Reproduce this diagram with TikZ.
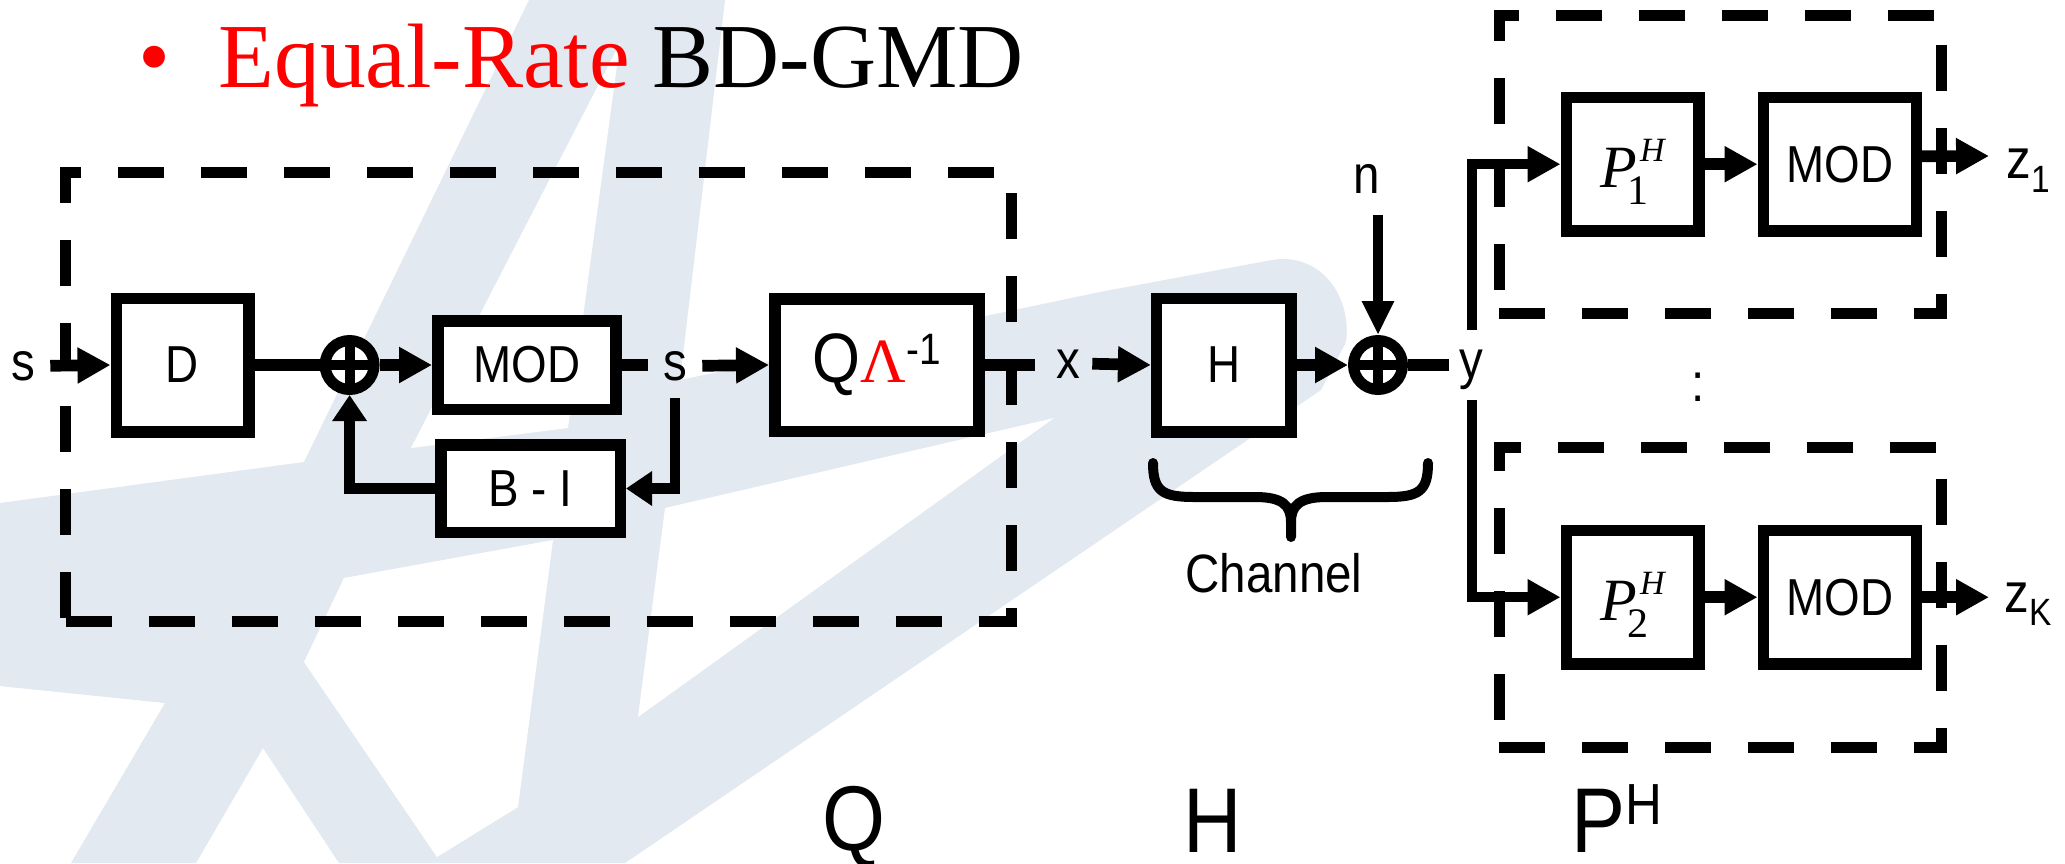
\documentclass[tikz,border=0pt]{standalone}
\usepackage{fontspec}
\setmainfont{Liberation Serif}
\newfontfamily\nar[FakeStretch=0.88]{Liberation Sans}
\usetikzlibrary{arrows.meta}
\definecolor{wm}{RGB}{226,233,240}
\newcommand{\fsz}[1]{\fontsize{#1}{#1}\selectfont}
\begin{document}
\begin{tikzpicture}[x=0.5pt,y=-0.5pt,
  blk/.style={draw, line width=5.75pt, fill=white, inner sep=0pt, font=\nar\fsz{26}},
  sumnode/.style={circle, draw, fill=white, line width=5.5pt, minimum size=24.5pt, inner sep=0pt,
    path picture={\draw[line width=5pt] (path picture bounding box.north) -- (path picture bounding box.south)
      (path picture bounding box.west) -- (path picture bounding box.east);}},
  frame/.style={draw, line width=5.5pt, dash pattern=on 23pt off 18.5pt, inner sep=0pt},
  wire/.style={line width=5.85pt},
  arr/.style={wire, -{Triangle[length=16.5pt,width=17pt]}},
  fb/.style={line width=5.25pt, -{Triangle[length=13pt,width=16.5pt]}},
  narr/.style={line width=4.75pt, -{Triangle[length=17pt,width=15pt]}},
  bus/.style={line width=5.25pt, -{Triangle[length=16.5pt,width=17pt]}},
  lbl/.style={font=\nar\fsz{27}, inner sep=0pt, anchor=base},
  bigl/.style={font=\nar\fsz{46}, inner sep=0pt},
  bracestyle/.style={line width=5pt, line cap=round},
]
\useasboundingbox (0,0) rectangle (2065,863);
\fill[white] (0,0) rectangle (2065,863);
% watermark
\fill[wm] (529,0) -- (725,0) -- (680,380) -- (1100,292) -- (1272,260)
  .. controls (1322,252) and (1352,298) .. (1346,342) -- (1321,390) -- (625,863)
  -- (339,863) -- (263,748) -- (196,863) -- (71,863) -- (165,703) -- (0,686)
  -- (0,503) -- (304,462) -- cycle;
\fill[white] (620,43) -- (411,448) -- (568,428) -- cycle;
\fill[white] (304,662) -- (344,578) -- (553,540) -- (518,807) -- (437,857) -- cycle;
\fill[white] (665,508) -- (1054,418) -- (638,717) -- cycle;

% title
\node[anchor=base west, inner sep=0pt, font=\fsz{45.75}] (title) at (138,87.3)
  {\textcolor{red}{•\hspace{24pt}Equal-Rate} BD-GMD};

% frames
\node[frame, minimum width=472.7pt, minimum height=224.5pt] (Qf) at (538.3,397.2) {};
\node[frame, minimum width=221pt, minimum height=149pt] (Pf1) at (1720,164) {};
\node[frame, minimum width=221pt, minimum height=150pt] (Pf2) at (1720,597) {};

% blocks
\node[blk, minimum width=66.25pt, minimum height=66.75pt] (D) at (182.5,365) {D};
\node[sumnode] (sum1) at (349.6,365) {};
\node[blk, minimum width=89pt, minimum height=44.25pt] (MOD) at (526.8,365) {MOD};
\node[blk, minimum width=89.75pt, minimum height=43.75pt] (BI) at (530.5,488.5) {B - I};
\node[blk, minimum width=102pt, minimum height=66.25pt] (Q) at (876.8,365)
  {{\fsz{35}Q}{\color{red}\rmfamily\fsz{31.5}Λ}\raisebox{9pt}{\fsz{22}-1}};
\node[blk, minimum width=67.25pt, minimum height=66.75pt] (H) at (1223.9,365) {H};
\node[sumnode] (sum2) at (1378,365) {};
\node[blk, minimum width=66.25pt, minimum height=66.75pt] (P1) at (1632.5,164.2)
  {\rmfamily\itshape\fsz{30}\rule{0pt}{32pt}P\rlap{\kern-4.5pt\raisebox{-8.5pt}{\fsz{21}\upshape 1}}\kern1.65pt\raisebox{13pt}{\fsz{17}H}};
\node[blk, minimum width=76.5pt, minimum height=66.75pt] (M1) at (1839.8,164.2) {MOD};
\node[blk, minimum width=66.25pt, minimum height=66.75pt] (P2) at (1632.5,597.2)
  {\rmfamily\itshape\fsz{30}\rule{0pt}{32pt}P\rlap{\kern-4.5pt\raisebox{-8.5pt}{\fsz{21}\upshape 2}}\kern1.65pt\raisebox{13pt}{\fsz{17}H}};
\node[blk, minimum width=76.5pt, minimum height=66.75pt] (M2) at (1839.8,597.2) {MOD};

% labels
\node[lbl] (s1) at (23,380) {s};
\node[lbl] (s2) at (675,380) {s};
\node[lbl] (xl) at (1068,378) {x};
\node[lbl] (yl) at (1471,378) {y};
\node[lbl] (nl) at (1367,193) {n};
\node[lbl, font=\nar\fsz{28}, anchor=base west] (z1) at (2006,178) {z\raisebox{-7pt}{\fsz{19}1}};
\node[lbl, font=\nar\fsz{28}, anchor=base west] (zK) at (2004,612) {z\raisebox{-6.5pt}{\fsz{19}K}};
\node[font=\nar\fsz{27}, inner sep=0pt] (dots) at (1698,387) {:};
\node[lbl] (chan) at (1274,592) {Channel};
\node[bigl, anchor=base] (Qlab) at (854,850) {Q};
\node[bigl, anchor=base] (Hlab) at (1213,852) {H};
\node[bigl, anchor=base west] (PHlab) at (1571,852) {P\raisebox{14pt}{\fsz{29}H}};

% connectors
\draw[arr] ([xshift=7.5pt]s1.east) -- (D.west);
\draw[wire] (D.east) -- (sum1.west);
\draw[arr] (sum1.east) -- (MOD.west);
\coordinate (s2in) at (648,365);
\draw[wire] (MOD.east) -- (s2in);
\draw[arr] ([xshift=7.5pt]s2.east) -- (Q.west);
\coordinate (fbT) at (675,398);
\draw[fb] (fbT) |- (BI.east);
\draw[fb] (BI.west) -| (sum1.south);
\coordinate (xin) at (1035,365);
\draw[wire] (Q.east) -- (xin);
\draw[arr] ([xshift=6pt]xl.east) -- (H.west);
\draw[arr] (H.east) -- (sum2.west);
\coordinate (nT) at (1378,215);
\draw[narr] (nT) -- (sum2.north);
\coordinate (yin) at (1449,365);
\draw[wire] (sum2.east) -- (yin);
\coordinate (busT) at (1472,330);
\coordinate (busB) at (1472,400);
\draw[bus] (busT) |- (P1.west);
\draw[bus] (busB) |- (P2.west);
\draw[arr] (P1.east) -- (M1.west);
\draw[arr] (P2.east) -- (M2.west);
\coordinate (z1c) at (1989,156);
\coordinate (zKc) at (1989,597.2);
\draw[arr] ([yshift=4pt]M1.east) -- (z1c);
\draw[arr] (M2.east) -- (zKc);

% brace
\coordinate (brL) at (1153,463);
\coordinate (brR) at (1428,463);
\coordinate (brT) at (1291,537);
\draw[bracestyle] (brL) .. controls (1153,492) and (1163,497) .. (1195,497) -- (1255,497)
  .. controls (1282,497) and (1291,505) .. (1291,522) -- (brT);
\draw[bracestyle] (brR) .. controls (1428,492) and (1418,497) .. (1387,497) -- (1327,497)
  .. controls (1300,497) and (1291,505) .. (1291,522);
\end{tikzpicture}
\end{document}
